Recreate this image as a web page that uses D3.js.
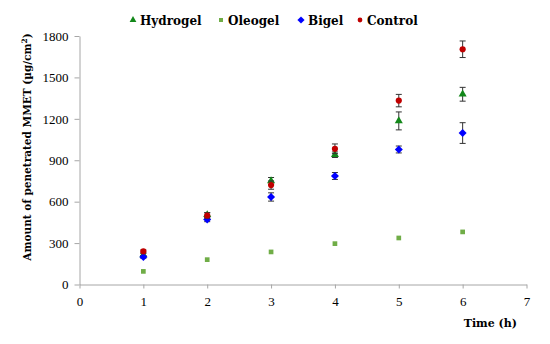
<!DOCTYPE html>
<html>
<head>
<meta charset="utf-8">
<script src="https://cdn.jsdelivr.net/npm/d3@7.9.0/dist/d3.min.js"></script>
<style>
  body { margin: 0; background: #fff; }
  text { font-family: "Liberation Serif", serif; }
  .bold { font-family: "DejaVu Serif", serif; font-weight: bold; }
</style>
</head>
<body>
<svg id="chart" width="550" height="344"></svg>
<script>
const times = [1, 2, 3, 4, 5, 6];
const hydrogel = [215, 505, 750, 940, 1185, 1378];
const hydrogelErr = [10, 15, 25, 20, 65, 50];
const oleogel = [95, 180, 236, 296, 337, 381];
const oleogelErr = [0, 0, 0, 0, 0, 0];
const bigel = [200, 470, 634, 786, 978, 1097];
const bigelErr = [10, 15, 30, 25, 25, 75];
const control = [240, 500, 720, 983, 1332, 1704];
const controlErr = [10, 20, 30, 35, 45, 60];
const xTicks = [0, 1, 2, 3, 4, 5, 6, 7];
const yTicks = [0, 300, 600, 900, 1200, 1500, 1800];

const series = [
  { name: 'Hydrogel', values: hydrogel, err: hydrogelErr, color: '#13881a', shape: d3.symbolTriangle, size: 28, rot: 0 },
  { name: 'Oleogel', values: oleogel, err: oleogelErr, color: '#70ad47', shape: d3.symbolSquare, size: 22, rot: 0 },
  { name: 'Bigel', values: bigel, err: bigelErr, color: '#0000ff', shape: d3.symbolSquare, size: 32, rot: 45 },
  { name: 'Control', values: control, err: controlErr, color: '#c00000', shape: d3.symbolCircle, size: 30, rot: 0 }
];

const svg = d3.select('#chart');
const x = d3.scaleLinear().domain([0, 7]).range([79.5, 526.5]);
const y = d3.scaleLinear().domain([0, 1800]).range([284.5, 36]);

// axes
const xAxis = svg.append('g').attr('transform', `translate(0,${y(0)})`)
  .call(d3.axisBottom(x).tickValues(xTicks).tickFormat(d3.format('d')).tickSize(4).tickSizeOuter(0).tickPadding(8));
const yAxis = svg.append('g').attr('transform', `translate(${x(0)},0)`)
  .call(d3.axisLeft(y).tickValues(yTicks).tickFormat(d3.format('d')).tickSize(5).tickSizeOuter(0).tickPadding(6));

[xAxis, yAxis].forEach(a => {
  a.attr('font-family', null).attr('font-size', null);
  a.select('.domain').attr('stroke', '#a6a6a6');
  a.selectAll('.tick line').attr('stroke', '#a6a6a6');
  a.selectAll('.tick text').attr('fill', '#000').style('font-size', '13px');
});

// axis titles
svg.append('text').attr('class', 'bold').attr('x', 517).attr('y', 327).attr('text-anchor', 'end')
  .style('font-size', '11px').text('Time (h)');
const yTitle = svg.append('text').attr('class', 'bold').attr('transform', 'translate(31,147) rotate(-90)')
  .attr('text-anchor', 'middle').style('font-size', '10.5px');
yTitle.append('tspan').text('Amount of penetrated MMET (µg/cm');
yTitle.append('tspan').attr('dy', -4).style('font-size', '7.5px').text('2');
yTitle.append('tspan').attr('dy', 4).text(')');

// error bars and markers
series.forEach(s => {
  const g = svg.append('g');
  times.forEach((t, i) => {
    const e = s.err[i];
    if (e > 0) {
      const cx = x(t);
      g.append('line').attr('x1', cx).attr('x2', cx).attr('y1', y(s.values[i] - e)).attr('y2', y(s.values[i] + e))
        .attr('stroke', '#333').attr('stroke-width', 1);
      [s.values[i] - e, s.values[i] + e].forEach(v => {
        g.append('line').attr('x1', cx - 3).attr('x2', cx + 3).attr('y1', y(v)).attr('y2', y(v))
          .attr('stroke', '#333').attr('stroke-width', 1);
      });
    }
  });
  g.selectAll('path.pt').data(times).join('path').attr('class', 'pt')
    .attr('d', d3.symbol().type(s.shape).size(s.size))
    .attr('transform', (t, i) => `translate(${x(t)},${y(s.values[i])}) rotate(${s.rot})`)
    .attr('fill', s.color);
});

// legend
const legendPos = [133, 221, 301, 360];
const legendSizes = [20, 16, 26, 18];
series.forEach((s, i) => {
  svg.append('path').attr('d', d3.symbol().type(s.shape).size(legendSizes[i]))
    .attr('transform', `translate(${legendPos[i]},20) rotate(${s.rot})`).attr('fill', s.color);
  svg.append('text').attr('class', 'bold').attr('x', legendPos[i] + 7).attr('y', 25)
    .style('font-size', '12px').text(s.name);
});
</script>
</body>
</html>
